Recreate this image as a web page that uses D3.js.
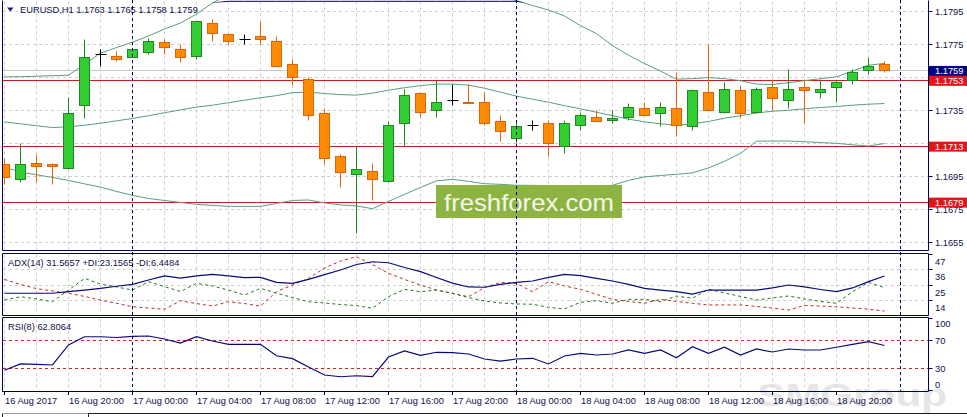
<!DOCTYPE html>
<html><head><meta charset="utf-8">
<script src="https://cdn.jsdelivr.net/npm/d3@7"></script>
<style>
html,body{margin:0;padding:0;background:#fff;overflow:hidden}
svg{display:block}
text{font-family:"Liberation Sans",Arial,sans-serif}
</style>
</head><body>
<svg id="c" width="967" height="417"></svg>
<script>
// ---------------- DATA ----------------
const symbol = "EURUSD,H1";
const open  = [1.1702,1.1693,1.1703,1.1702,1.1700,1.1738,1.1769,1.1768,1.1767,1.1770,1.1776,1.1772,1.1768,1.1788,1.1781,1.1778,1.1780,1.1777,1.1763,1.1754,1.1733,1.1707,1.1696,1.1698,1.1692,1.1727,1.1745,1.1735,1.1741,1.1740,1.1740,1.1728,1.1718,1.1726,1.1727,1.1713,1.1726,1.1731,1.1729,1.1731,1.1736,1.1733,1.1736,1.1725,1.1746,1.1734,1.1747,1.1734,1.1749,1.1741,1.1749,1.1746,1.1749,1.1753,1.1759,1.1763];
const high  = [1.1706,1.1715,1.1708,1.1703,1.1743,1.1778,1.1772,1.1771,1.1772,1.1779,1.1778,1.1775,1.1789,1.1790,1.1782,1.1781,1.1789,1.1780,1.1766,1.1755,1.1736,1.1708,1.1713,1.1703,1.1728,1.1748,1.1746,1.1753,1.1751,1.1751,1.1746,1.1732,1.1729,1.1729,1.1729,1.1729,1.1734,1.1735,1.1735,1.1739,1.1740,1.1740,1.1758,1.1748,1.1775,1.1752,1.1750,1.1749,1.1754,1.1760,1.1754,1.1754,1.1753,1.1760,1.1767,1.1765];
const low   = [1.1690,1.1691,1.1691,1.1690,1.1699,1.1730,1.1762,1.1765,1.1767,1.1769,1.1769,1.1764,1.1766,1.1777,1.1775,1.1775,1.1775,1.1761,1.1750,1.1729,1.1702,1.1688,1.1660,1.1680,1.1691,1.1713,1.1731,1.1731,1.1738,1.1739,1.1726,1.1716,1.1715,1.1723,1.1707,1.1709,1.1723,1.1728,1.1727,1.1729,1.1732,1.1725,1.1719,1.1723,1.1735,1.1733,1.1730,1.1733,1.1735,1.1736,1.1727,1.1742,1.1740,1.1751,1.1757,1.1758];
const close = [1.1694,1.1702,1.1701,1.1701,1.1733,1.1767,1.1769,1.1766,1.1772,1.1777,1.1773,1.1767,1.1789,1.1782,1.1777,1.1778,1.1778,1.1762,1.1755,1.1732,1.1706,1.1697,1.1699,1.1693,1.1726,1.1744,1.1734,1.1740,1.1741,1.1739,1.1727,1.1722,1.1725,1.1726,1.1715,1.1727,1.1732,1.1728,1.1730,1.1737,1.1732,1.1737,1.1726,1.1747,1.1735,1.1748,1.1733,1.1748,1.1742,1.1748,1.1747,1.1748,1.1752,1.1758,1.1762,1.1759];

const bandUpper  = [1.17554,1.17555,1.17558,1.17561,1.17564,1.17631,1.17698,1.17732,1.17765,1.17802,1.17845,1.17881,1.17936,1.18003,1.18052,1.18082,1.18100,1.18107,1.18113,1.18113,1.18119,1.18131,1.18149,1.18161,1.18143,1.18119,1.18100,1.18088,1.18082,1.18076,1.18064,1.18040,1.18018,1.17988,1.17960,1.17924,1.17865,1.17817,1.17744,1.17686,1.17635,1.17589,1.17540,1.17543,1.17550,1.17543,1.17531,1.17510,1.17507,1.17519,1.17531,1.17543,1.17554,1.17589,1.17625,1.17636];
const bandMiddle = [1.17280,1.17269,1.17257,1.17246,1.17251,1.17260,1.17272,1.17287,1.17301,1.17318,1.17336,1.17353,1.17370,1.17382,1.17397,1.17412,1.17427,1.17440,1.17458,1.17461,1.17453,1.17446,1.17443,1.17455,1.17473,1.17488,1.17501,1.17510,1.17510,1.17504,1.17485,1.17461,1.17437,1.17418,1.17400,1.17379,1.17360,1.17339,1.17318,1.17297,1.17281,1.17269,1.17260,1.17269,1.17283,1.17303,1.17318,1.17335,1.17345,1.17351,1.17360,1.17368,1.17374,1.17382,1.17388,1.17392];
const bandLower  = [1.17004,1.16976,1.16959,1.16943,1.16925,1.16904,1.16884,1.16858,1.16834,1.16815,1.16803,1.16791,1.16779,1.16773,1.16767,1.16767,1.16767,1.16785,1.16803,1.16806,1.16788,1.16776,1.16770,1.16753,1.16797,1.16840,1.16882,1.16922,1.16931,1.16919,1.16905,1.16901,1.16895,1.16895,1.16892,1.16892,1.16888,1.16892,1.16895,1.16925,1.16946,1.16955,1.16962,1.16971,1.17001,1.17041,1.17089,1.17163,1.17164,1.17164,1.17160,1.17155,1.17150,1.17141,1.17134,1.17149];

const adx     = [19.2,19.2,19.2,19.2,20.3,21.5,22.7,24.2,25.6,28.7,31.6,30.1,31.6,32.8,31.6,30.4,30.6,27.0,26.3,29.2,32.6,35.9,39.8,41.8,41.1,37.7,34.7,30.5,26.5,23.7,23.5,25.5,27.0,28.0,30.6,32.8,31.8,29.8,28.0,25.5,22.7,21.5,20.3,18.6,21.5,21.5,21.5,21.5,23.0,25.1,23.7,21.9,20.3,23.0,27.5,31.57];
const plusDI  = [14.3,16.7,15.1,13.1,21.5,29.9,25.8,23.7,21.5,27.5,24.0,20.4,26.3,24.4,21.5,17.9,22.7,19.2,16.1,13.1,12.2,11.1,10.3,8.4,16.7,22.0,20.3,21.5,19.2,16.1,13.6,12.2,11.5,11.3,9.1,7.9,12.7,13.8,12.0,14.8,14.8,13.1,17.2,15.6,22.0,19.4,16.9,14.3,15.8,17.2,15.1,13.3,12.0,20.3,27.0,23.16];
const minusDI = [29.1,25.5,22.5,20.8,19.2,16.9,14.3,12.0,9.5,8.6,7.7,13.8,11.8,10.0,13.1,11.8,10.0,20.3,25.1,29.9,37.3,42.3,45.4,39.8,33.5,29.1,25.1,21.5,19.0,16.7,23.3,27.0,26.3,20.3,27.5,24.4,22.0,18.4,14.8,13.3,12.0,14.8,13.3,12.0,10.8,10.8,10.8,9.7,8.6,7.2,10.4,10.0,9.5,8.6,7.7,6.45];
const rsi     = [28.2,37.0,36.3,35.6,63.5,75.0,75.0,73.9,75.6,76.0,71.8,66.2,75.0,69.0,64.4,64.4,64.4,48.5,44.4,32.8,21.6,19.2,20.6,19.5,46.7,55.1,49.1,53.3,52.7,50.9,43.9,41.1,43.9,44.9,37.0,48.1,51.9,49.5,50.9,56.5,51.9,56.5,45.7,61.1,51.9,60.3,49.5,57.9,53.7,57.9,56.5,56.5,60.3,64.4,68.1,62.81];

const priceTicks = [1.1795,1.1775,1.1755,1.1735,1.1715,1.1695,1.1675,1.1655];
const levelLines = [1.1753,1.1713,1.1679];
const bidPrice = 1.1759;
const adxTicks = [47,36,25,14];
const rsiTicks = [100,70,30,0];
const rsiLevels = [70,30];
const timeTickLabels = ["16 Aug 2017","16 Aug 20:00","17 Aug 00:00","17 Aug 04:00","17 Aug 08:00","17 Aug 12:00","17 Aug 16:00","17 Aug 20:00","18 Aug 00:00","18 Aug 04:00","18 Aug 08:00","18 Aug 12:00","18 Aug 16:00","18 Aug 20:00"];
const adxTitle = "ADX(14) 31.5657 +DI:23.1565 -DI:6.4484";
const rsiTitle = "RSI(8) 62.8064";
const watermark = "freshforex.com";
const brand = "SMGroup";

// ---------------- SETUP ----------------
const svg = d3.select("#c");
const FS = 9.3;
const NAVY = "#00005a", TXT = "#10104a";
const L = 2.5, R = 928.5;
const P = {main:[0.5,250.5], adx:[253.5,315.5], rsi:[317.5,391.5]};
const crisp = v => Math.round(v - 0.5) + 0.5;

const times = d3.range(open.length).map(i => new Date(Date.UTC(2017,7,16,16+i)));
const endT = new Date(Date.UTC(2017,7,19,1));
const x = d3.scaleUtc().domain([times[0], times[times.length-1]]).range([4.5, 884.5]);
const yMain = d3.scaleLinear().domain([1.1655,1.1795]).range([242.1,11.7]);
const yAdx = d3.scaleLinear().domain([6.45,31.57]).range([311,276]);
const yRsi = d3.scaleLinear().domain([0,100]).range([390.5,318.8]);

const defs = svg.append("defs");
defs.append("clipPath").attr("id","clipMain").append("rect").attr("x",3).attr("y",0).attr("width",925).attr("height",250);
defs.append("clipPath").attr("id","clipAdx").append("rect").attr("x",3).attr("y",254).attr("width",925).attr("height",61);
defs.append("clipPath").attr("id","clipRsi").append("rect").attr("x",3).attr("y",318).attr("width",925).attr("height",73);
defs.append("clipPath").attr("id","clipTop").append("rect").attr("x",3).attr("y",0).attr("width",925).attr("height",2.6);

// brand watermark (behind)
svg.append("text").attr("x",757).attr("y",406).attr("font-size",31).attr("font-weight","bold")
  .attr("font-family","DejaVu Sans").attr("fill","#e6e6e6").attr("textLength",190).attr("lengthAdjust","spacingAndGlyphs").text(brand);

// vertical grid in all panels
const gridTimes = d3.utcHour.every(2).range(times[0], endT);
Object.values(P).forEach(([t,b]) => {
  svg.append("g").selectAll("line").data(gridTimes).join("line")
    .attr("x1",d=>crisp(x(d))).attr("x2",d=>crisp(x(d))).attr("y1",t+1).attr("y2",b-1)
    .attr("stroke","#cfcfcf").attr("stroke-dasharray","3,3");
});
// horizontal grid main
svg.append("g").selectAll("line").data(priceTicks).join("line")
  .attr("x1",3).attr("x2",R).attr("y1",d=>crisp(yMain(d))).attr("y2",d=>crisp(yMain(d)))
  .attr("stroke","#cfcfcf").attr("stroke-dasharray","3,3");
// horizontal grid adx
svg.append("g").selectAll("line").data(adxTicks.slice(1)).join("line")
  .attr("x1",3).attr("x2",R).attr("y1",d=>crisp(yAdx(d))).attr("y2",d=>crisp(yAdx(d)))
  .attr("stroke","#cfcfcf").attr("stroke-dasharray","3,3");

// ---------------- MAIN PANEL ----------------
const gm = svg.append("g").attr("clip-path","url(#clipMain)");
gm.append("line").attr("x1",3).attr("x2",R).attr("y1",crisp(yMain(bidPrice))).attr("y2",crisp(yMain(bidPrice)))
  .attr("stroke","#c8c8c8");
gm.selectAll("line.lvl").data(levelLines).join("line").attr("class","lvl")
  .attr("x1",3).attr("x2",R).attr("y1",d=>crisp(yMain(d))).attr("y2",d=>crisp(yMain(d)))
  .attr("stroke","#c81e1e").attr("stroke-width",1.2);
const BAND = "#5a9f7c";
[bandUpper,bandMiddle,bandLower].forEach(arr => {
  gm.append("path").datum(arr).attr("fill","none").attr("stroke",BAND).attr("stroke-width",1)
    .attr("d", d3.line().x((d,i)=>x(times[i])).y(d=>yMain(d)));
});
svg.append("path").datum(bandUpper).attr("clip-path","url(#clipTop)").attr("fill","none").attr("stroke",NAVY)
  .attr("d", d3.line().x((d,i)=>x(times[i])).y(d=>Math.max(1.3,yMain(d))));

const candles = times.map((t,i)=>({t,o:open[i],h:high[i],l:low[i],c:close[i]}));
const cg = gm.append("g");
candles.forEach(d => {
  const xc = crisp(x(d.t));
  const yh = crisp(yMain(d.h)), yl = crisp(yMain(d.l));
  if (d.o === d.c) {
    const yo = crisp(yMain(d.o));
    cg.append("line").attr("x1",xc).attr("x2",xc).attr("y1",yh).attr("y2",yl).attr("stroke","#000");
    cg.append("line").attr("x1",xc-5).attr("x2",xc+6).attr("y1",yo).attr("y2",yo).attr("stroke","#000");
    return;
  }
  const bull = d.c > d.o;
  const stroke = bull ? "#1f8a1f" : "#e2620c";
  const fill = bull ? "#32cd32" : "#ff8c00";
  cg.append("line").attr("x1",xc).attr("x2",xc).attr("y1",yh).attr("y2",yl).attr("stroke",stroke);
  const yt = crisp(yMain(Math.max(d.o,d.c))), yb = crisp(yMain(Math.min(d.o,d.c)));
  cg.append("rect").attr("x",xc-5).attr("y",yt).attr("width",10).attr("height",Math.max(1,yb-yt))
    .attr("fill",fill).attr("stroke",stroke);
});

svg.append("rect").attr("x",436).attr("y",185).attr("width",186).attr("height",33).attr("fill","#8db443");
svg.append("text").attr("x",529).attr("y",210.5).attr("text-anchor","middle").attr("font-family","'Open Sans',sans-serif")
  .attr("font-size",24).attr("fill","#f4f6ea").attr("textLength",170).attr("lengthAdjust","spacingAndGlyphs").text(watermark);

svg.append("path").attr("d","M7,7.5 L13.5,7.5 L10.25,11.5 Z").attr("fill","#1a1a80");
svg.append("text").attr("x",20).attr("y",13).attr("font-size",FS).attr("fill",TXT)
  .text(`${symbol}  ${open[open.length-1].toFixed(4)} ${high[high.length-1].toFixed(4)} ${low[low.length-1].toFixed(4)} ${close[close.length-1].toFixed(4)}`);

// ---------------- ADX PANEL ----------------
const ga = svg.append("g").attr("clip-path","url(#clipAdx)");
const lineA = d3.line().x((d,i)=>x(times[i])).y(d=>yAdx(d));
ga.append("path").datum(minusDI).attr("fill","none").attr("stroke","#c42a22").attr("stroke-dasharray","3,3").attr("d",lineA);
ga.append("path").datum(plusDI).attr("fill","none").attr("stroke","#1e7a1e").attr("stroke-dasharray","3,3").attr("d",lineA);
ga.append("path").datum(adx).attr("fill","none").attr("stroke","#0a0a7a").attr("stroke-width",1.2).attr("d",lineA);
svg.append("text").attr("x",8).attr("y",266).attr("font-size",FS).attr("fill",TXT).text(adxTitle);

// ---------------- RSI PANEL ----------------
const gr = svg.append("g").attr("clip-path","url(#clipRsi)");
gr.selectAll("line.lv").data(rsiLevels).join("line").attr("class","lv")
  .attr("x1",3).attr("x2",R).attr("y1",d=>crisp(yRsi(d))).attr("y2",d=>crisp(yRsi(d)))
  .attr("stroke","#c42a22").attr("stroke-dasharray","3,3");
gr.append("path").datum(rsi).attr("fill","none").attr("stroke","#0a0a7a").attr("stroke-width",1.2)
  .attr("d", d3.line().x((d,i)=>x(times[i])).y(d=>yRsi(d)));
svg.append("text").attr("x",8).attr("y",330).attr("font-size",FS).attr("fill",TXT).text(rsiTitle);

// ---------------- DAY SEPARATORS ----------------
const dayTimes = d3.utcDay.range(times[0], endT);
svg.append("g").selectAll("line").data(dayTimes).join("line")
  .attr("x1",d=>crisp(x(d))).attr("x2",d=>crisp(x(d))).attr("y1",0).attr("y2",391)
  .attr("stroke",NAVY).attr("stroke-dasharray","3,3");

// ---------------- FRAMES ----------------
Object.entries(P).forEach(([k,[t,b]]) => {
  const g = svg.append("g").attr("stroke",NAVY).attr("fill","none");
  if (k !== "main") g.append("line").attr("x1",L).attr("x2",R).attr("y1",t).attr("y2",t);
  g.append("line").attr("x1",L).attr("x2",R).attr("y1",b).attr("y2",b);
  g.append("line").attr("x1",L).attr("x2",L).attr("y1",t).attr("y2",b);
  g.append("line").attr("x1",R).attr("x2",R).attr("y1",t).attr("y2",b);
});

// ---------------- RIGHT AXES ----------------
const boxes = [{v:bidPrice,c:"#000080"}].concat(levelLines.map(v=>({v,c:"#e8121a"})));
const ra = svg.append("g").attr("font-size",FS).attr("fill",TXT);
priceTicks.forEach(p => {
  const y = yMain(p);
  ra.append("line").attr("x1",R).attr("x2",R+4).attr("y1",crisp(y)).attr("y2",crisp(y)).attr("stroke",NAVY);
  // labels completely hidden behind a price box are not drawn
  if (boxes.some(b => Math.abs(yMain(b.v) - y) < 4)) return;
  ra.append("text").attr("x",935).attr("y",y+3.4).text(p.toFixed(4));
});
adxTicks.forEach(v => {
  const y = yAdx(v);
  ra.append("line").attr("x1",R).attr("x2",R+4).attr("y1",crisp(y)).attr("y2",crisp(y)).attr("stroke",NAVY);
  ra.append("text").attr("x",935).attr("y",y+10.5).text(v);
});
rsiTicks.forEach(v => {
  const y = yRsi(v);
  ra.append("line").attr("x1",R).attr("x2",R+4).attr("y1",crisp(y)).attr("y2",crisp(y)).attr("stroke",NAVY);
  ra.append("text").attr("x",935).attr("y",Math.min(384.5,Math.max(324,y))+3.4).text(v);
});
boxes.forEach(b => {
  const y = yMain(b.v);
  svg.append("rect").attr("x",929).attr("y",y-5).attr("width",38).attr("height",10).attr("fill",b.c);
  svg.append("text").attr("x",935).attr("y",y+3.4).attr("font-size",FS).attr("fill","#fff").text(b.v.toFixed(4));
});

// ---------------- TIME AXIS ----------------
const tickTimes = d3.utcHour.every(4).range(times[0], times[times.length-1]);
const ta = svg.append("g");
tickTimes.forEach((t,i) => {
  const xx = crisp(x(t));
  ta.append("line").attr("x1",xx).attr("x2",xx).attr("y1",391.5).attr("y2",395).attr("stroke",NAVY);
  ta.append("text").attr("x",xx+0.5).attr("y",404).attr("font-size",FS).attr("fill",TXT).text(timeTickLabels[i]);
});

svg.append("line").attr("x1",3).attr("x2",88).attr("y1",413.5).attr("y2",413.5).attr("stroke","#a0a0a0");
svg.append("line").attr("x1",88).attr("x2",967).attr("y1",413.5).attr("y2",413.5).attr("stroke","#202020");
svg.append("line").attr("x1",88.5).attr("x2",88.5).attr("y1",413.5).attr("y2",417).attr("stroke","#202020");
svg.append("line").attr("x1",2.5).attr("x2",2.5).attr("y1",413.5).attr("y2",417).attr("stroke","#202020");
</script>
</body></html>
